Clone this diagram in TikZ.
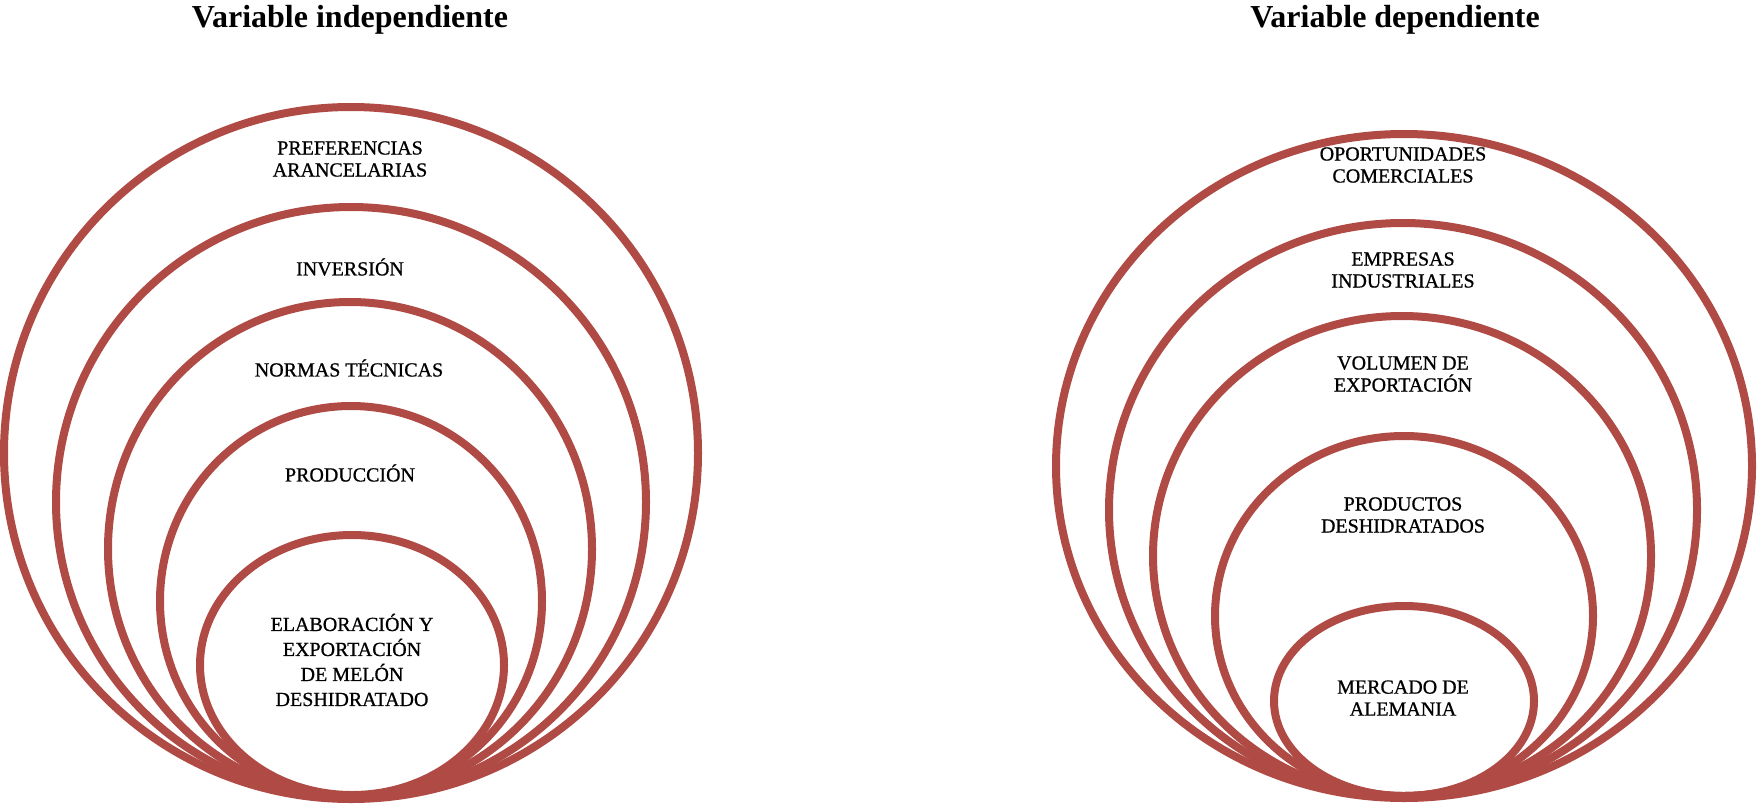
\documentclass[tikz,border=0pt]{standalone}
\usepackage{fontspec}
\setmainfont{Liberation Serif}
\newfontfamily\ringfont[FakeBold=0.8]{Liberation Serif}
\usepackage{xcolor}
\definecolor{ringred}{RGB}{176,74,69}
\tikzset{
  ring/.style={line width=4pt,draw=ringred},
  ringlabel/.style={align=center,font=\ringfont\fontsize{10}{11}\selectfont,inner sep=0pt},
  vartitle/.style={font=\fontsize{16}{19}\selectfont\bfseries,inner sep=0pt}
}

\begin{document}
\begin{tikzpicture}[x=0.5pt,y=-0.5pt]
  \useasboundingbox (0,0) rectangle (1760,803);

  % variable independiente
  \node[vartitle] (indtitle) at (350,20) {Variable independiente};
  \draw[ring] (351,453) ellipse [x radius=347,y radius=346];
  \draw[ring] (351,502) ellipse [x radius=295,y radius=295];
  \draw[ring] (350,549) ellipse [x radius=242,y radius=247];
  \draw[ring] (351,601) ellipse [x radius=191,y radius=195];
  \draw[ring] (352,665) ellipse [x radius=152,y radius=130];
  \node[ringlabel] (pref) at (350,159) {PREFERENCIAS\\ARANCELARIAS};
  \node[ringlabel] (inv) at (350,267) {INVERSIÓN};
  \node[ringlabel] (norm) at (349,368) {NORMAS TÉCNICAS};
  \node[ringlabel] (prod) at (350,473) {PRODUCCIÓN};
  \node[ringlabel,font=\ringfont\fontsize{10}{12.5}\selectfont] (elab) at (352,660)
    {ELABORACIÓN Y\\EXPORTACIÓN\\DE MELÓN\\DESHIDRATADO};

  % variable dependiente
  \node[vartitle] (deptitle) at (1395,20) {Variable dependiente};
  \draw[ring] (1404,466) ellipse [x radius=348,y radius=332];
  \draw[ring] (1403,510) ellipse [x radius=294,y radius=287];
  \draw[ring] (1402,556) ellipse [x radius=249,y radius=240];
  \draw[ring] (1404,616) ellipse [x radius=189,y radius=180];
  \draw[ring] (1404,701) ellipse [x radius=130,y radius=95];
  \node[ringlabel] (oport) at (1403,165) {OPORTUNIDADES\\COMERCIALES};
  \node[ringlabel] (empr) at (1403,270) {EMPRESAS\\INDUSTRIALES};
  \node[ringlabel] (vol) at (1403,374) {VOLUMEN DE\\EXPORTACIÓN};
  \node[ringlabel] (prods) at (1403,515) {PRODUCTOS\\DESHIDRATADOS};
  \node[ringlabel] (merc) at (1403,698) {MERCADO DE\\ALEMANIA};
\end{tikzpicture}
\end{document}
